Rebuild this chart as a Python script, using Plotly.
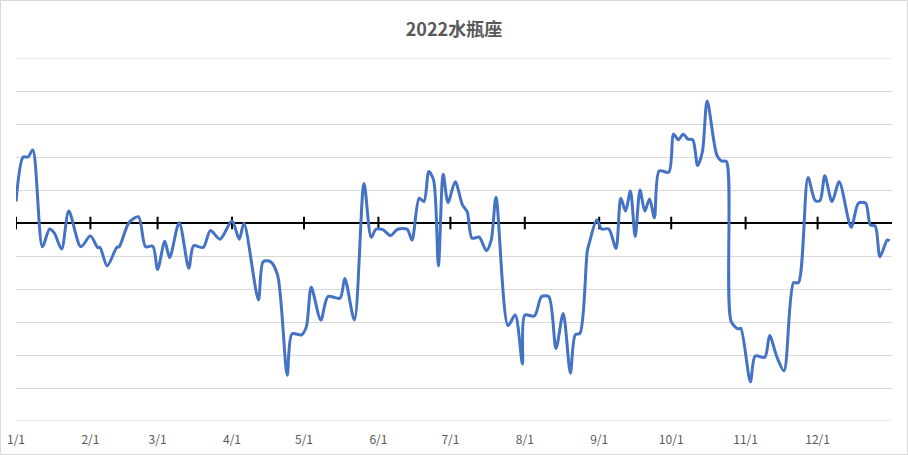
import plotly.graph_objects as go

# ---- data ----
dates = [
    "2022-01-01", "2022-01-04", "2022-01-06", "2022-01-08", "2022-01-12", "2022-01-15",
    "2022-01-17", "2022-01-20", "2022-01-23", "2022-01-28", "2022-02-01", "2022-02-04",
    "2022-02-05", "2022-02-08", "2022-02-12", "2022-02-13", "2022-02-17", "2022-02-21",
    "2022-02-24", "2022-02-27", "2022-03-01", "2022-03-04", "2022-03-06", "2022-03-10",
    "2022-03-14", "2022-03-16", "2022-03-20", "2022-03-23", "2022-03-27", "2022-04-01",
    "2022-04-04", "2022-04-06", "2022-04-12", "2022-04-14", "2022-04-17", "2022-04-20",
    "2022-04-24", "2022-04-26", "2022-04-30", "2022-05-02", "2022-05-04", "2022-05-08",
    "2022-05-11", "2022-05-16", "2022-05-18", "2022-05-22", "2022-05-26", "2022-05-29",
    "2022-05-31", "2022-06-03", "2022-06-06", "2022-06-09", "2022-06-13", "2022-06-15",
    "2022-06-18", "2022-06-20", "2022-06-22", "2022-06-24", "2022-06-26", "2022-06-28",
    "2022-06-30", "2022-07-03", "2022-07-06", "2022-07-08", "2022-07-10", "2022-07-13",
    "2022-07-16", "2022-07-18", "2022-07-20", "2022-07-25", "2022-07-28", "2022-07-31",
    "2022-08-01", "2022-08-05", "2022-08-08", "2022-08-11", "2022-08-14", "2022-08-17",
    "2022-08-20", "2022-08-22", "2022-08-24", "2022-08-27", "2022-08-28", "2022-08-31",
    "2022-09-02", "2022-09-05", "2022-09-08", "2022-09-10", "2022-09-12", "2022-09-14",
    "2022-09-16", "2022-09-18", "2022-09-20", "2022-09-22", "2022-09-24", "2022-09-26",
    "2022-09-30", "2022-10-02", "2022-10-04", "2022-10-06", "2022-10-08", "2022-10-10",
    "2022-10-12", "2022-10-14", "2022-10-16", "2022-10-20", "2022-10-22", "2022-10-24",
    "2022-10-26", "2022-10-29", "2022-10-30", "2022-11-03", "2022-11-05", "2022-11-09",
    "2022-11-11", "2022-11-14", "2022-11-17", "2022-11-21", "2022-11-23", "2022-11-27",
    "2022-11-30", "2022-12-02", "2022-12-04", "2022-12-07", "2022-12-10", "2022-12-15",
    "2022-12-18", "2022-12-21", "2022-12-23", "2022-12-25", "2022-12-27", "2022-12-30",
    "2022-12-31",
]
values = [
    0.65, 2.00, 2.00, 2.21, -0.72, -0.18,
    -0.31, -0.79, 0.36, -0.72, -0.39, -0.74,
    -0.74, -1.30, -0.74, -0.72, 0.00, 0.19,
    -0.72, -0.70, -1.41, -0.55, -1.05, 0.01,
    -1.37, -0.69, -0.74, -0.23, -0.49, 0.06,
    -0.49, -0.01, -2.33, -1.17, -1.17, -1.58,
    -4.61, -3.36, -3.39, -3.14, -1.95, -2.94,
    -2.23, -2.28, -1.68, -2.94, 1.20, -0.43,
    -0.19, -0.21, -0.38, -0.19, -0.19, -0.52,
    0.75, 0.65, 1.56, 1.30, -1.30, 1.48,
    0.62, 1.25, 0.55, 0.34, -0.46, -0.43,
    -0.84, -0.52, 0.78, -3.11, -2.79, -4.27,
    -2.79, -2.82, -2.23, -2.23, -3.80, -2.74,
    -4.55, -3.39, -3.34, -0.87, -0.57, 0.09,
    -0.18, -0.18, -0.77, 0.75, 0.36, 0.97,
    -0.41, 1.00, 0.36, 0.73, 0.16, 1.58,
    1.54, 2.69, 2.52, 2.69, 2.54, 2.52,
    1.74, 2.16, 3.70, 2.06, 1.88, 1.86,
    -2.99, -3.21, -3.19, -4.81, -4.03, -4.07,
    -3.41, -4.05, -4.48, -1.81, -1.81, 1.38,
    0.68, 0.68, 1.43, 0.65, 1.25, -0.13,
    0.60, 0.60, -0.06, -0.09, -1.02, -0.52,
    -0.54,
]
month_starts = ["2022-01-01", "2022-02-01", "2022-03-01", "2022-04-01", "2022-05-01",
                "2022-06-01", "2022-07-01", "2022-08-01", "2022-09-01", "2022-10-01",
                "2022-11-01", "2022-12-01"]
month_labels = ["1/1", "2/1", "3/1", "4/1", "5/1", "6/1", "7/1", "8/1", "9/1",
                "10/1", "11/1", "12/1"]
title_text = "2022水瓶座"

W, H = 908, 455
ML, MR, MT, MB = 16, 16, 58, 34
PW, PH = W - ML - MR, H - MT - MB

fig = go.Figure()

# tick marks crossing the zero axis
fig.add_trace(go.Scatter(
    x=month_starts, y=[0] * len(month_starts), mode="markers",
    marker=dict(symbol="line-ns-open", size=9, color="black",
                line=dict(color="black", width=2)),
    hoverinfo="skip", showlegend=False,
))

fig.add_trace(go.Scatter(
    x=dates, y=values, mode="lines",
    line=dict(color="#4472C4", width=3, shape="spline", smoothing=0.8),
    showlegend=False,
))

fig.update_layout(
    width=W, height=H,
    margin=dict(l=ML, r=MR, t=MT, b=MB, autoexpand=False),
    paper_bgcolor="white", plot_bgcolor="white",
    title=dict(text="<b>" + title_text + "</b>", x=0.5, xanchor="center",
               y=1 - 30 / H, yanchor="middle",
               font=dict(family="Noto Sans CJK JP", size=18, color="#595959")),
    xaxis=dict(range=["2022-01-01", "2023-01-01"], showgrid=False, zeroline=False,
               showline=False, tickvals=month_starts, ticktext=month_labels,
               ticks="", ticklabelstandoff=10, automargin=False,
               tickfont=dict(family="Noto Sans CJK JP", size=12, color="#595959")),
    yaxis=dict(range=[-6, 5], dtick=1, tick0=0, showticklabels=False, automargin=False,
               showgrid=True, gridcolor="#d9d9d9", gridwidth=1,
               zeroline=True, zerolinecolor="black", zerolinewidth=2, showline=False),
    shapes=[
        dict(type="rect", xref="paper", yref="paper",
             x0=-(ML - 0.5) / PW, x1=1 + (MR - 0.5) / PW,
             y0=-(MB - 0.5) / PH, y1=1 + (MT - 0.5) / PH,
             line=dict(color="#d9d9d9", width=1), layer="below"),
        dict(type="line", xref="paper", yref="y", x0=0, x1=1, y0=5, y1=5,
             line=dict(color="#d9d9d9", width=1), layer="below"),
        dict(type="line", xref="paper", yref="y", x0=0, x1=1, y0=-6, y1=-6,
             line=dict(color="#d9d9d9", width=1), layer="below"),
    ],
)

fig.write_html("out.html", config={"displayModeBar": False},
               post_script="document.body.style.margin='0';")
